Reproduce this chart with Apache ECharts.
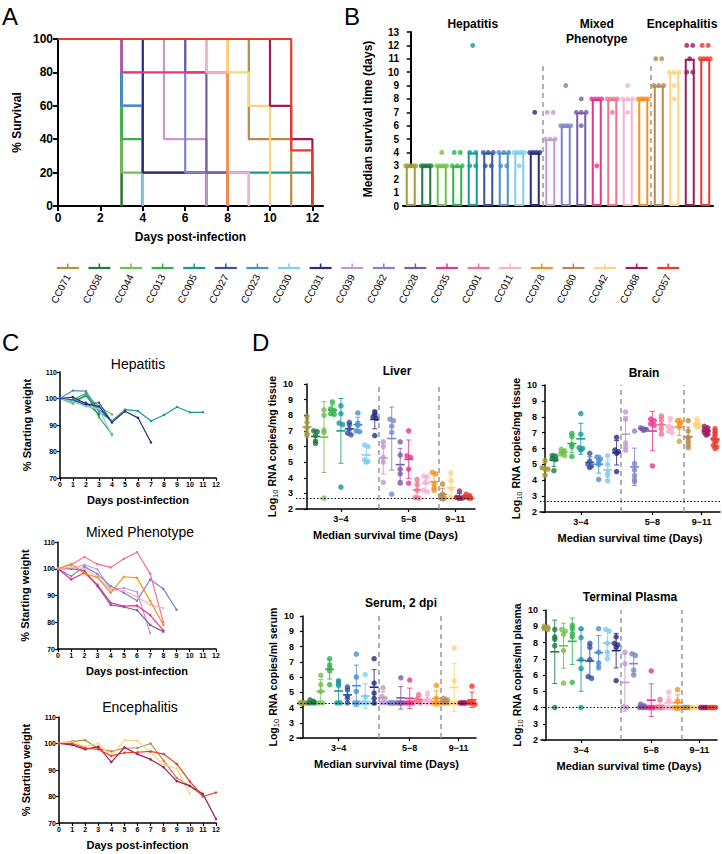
<!DOCTYPE html>
<html><head><meta charset="utf-8">
<script src="https://cdn.jsdelivr.net/npm/echarts@6/dist/echarts.min.js"></script>
<style>html,body{margin:0;padding:0;background:#fff}#c{width:722px;height:854px}</style>
</head><body><div id="c"></div>
<script>
// ---------------- DATA ----------------
const strains = ['CC071','CC058','CC044','CC013','CC005','CC027','CC023','CC030','CC031','CC039','CC062','CC028','CC035','CC001','CC011','CC078','CC060','CC042','CC068','CC057'];
const strainColors = ['#a39a3b','#1b7a40','#72c04e','#2fb34a','#17999a','#3353a3','#4a8fd0','#80cdef','#262c7e','#c09ad0','#7c86c8','#7b5aa6','#e9348c','#f07490','#f6b2cf','#f7941d','#b8884c','#fdd57c','#9b1d5b','#ea3a2c'];
const survivalDays = [
  [3,3,3,3,3],[3,3,3,3,3],[3,3,3,3,4],[3,3,3,4,4],[3,3,4,4,12],
  [3,3,4,4,4],[3,3,4,4,4],[3,4,4,4,4],[4,4,4,4,7],[5,5,5,7,7],
  [6,6,6,6,9],[6,7,7,7,8],[3,8,8,8,8],[7,8,8,8,8],[7,8,8,8,9],
  [8,8,8,8,8],[9,9,9,11,11],[8,9,10,10,10],[10,10,11,12,12],[11,11,11,11,12,12]
];
const survivalTicks = [0,2,4,6,8,10,12];
const groupNames = ['Hepatitis','Mixed\nPhenotype','Encephalitis'];
const groupSizes = [9,7,4];
const groupLabelsD = ['3\u22124','5\u22128','9\u221211'];

const hepStrains = ['CC071','CC058','CC044','CC013','CC005','CC027','CC023','CC030','CC031'];
const hepWeights = [
  [100,98.5,101,95],
  [100,99,98.5,94],
  [100,98,101.5,97,94],
  [100,99.5,102,93,86.5],
  [100,99,101,96,91.5,95.8,95.3,91.5,93.8,96.8,94.8,94.8],
  [100,99.5,97.5,98.5,91],
  [100,103,102.8,95,91.5],
  [100,98.8,97,96,86],
  [100,100.5,98,97,91,95.2,92.7,83.4]
];
const mixStrains = ['CC039','CC062','CC028','CC035','CC001','CC011','CC078'];
const mixWeights = [
  [100,100,101.5,99.8,92.2,92.8,91.3,76],
  [100,97.2,100.8,98,93.5,91,88,96,92.5,84.7],
  [100,100,99.3,93.5,86.5,85.7,84.5,79,76.5],
  [100,96,98.5,94,87.3,86,86.2,82.7,77],
  [100,101.5,104.4,101.7,100.5,103.7,106.2,98.2,80],
  [100,100.5,100,97,92,91.8,89.5,86.5,85.3],
  [100,101.8,98.2,96.8,91,97,96.6,88,79]
];
const encStrains = ['CC060','CC042','CC068','CC057'];
const encWeights = [
  [100,100.8,101.3,98,97,98.3,98.3,100,93.5,87,84,80.3],
  [100,100.5,98.8,100,95.3,101.3,101,96.5,92,90.5,81],
  [100,99.5,97.8,98.8,93,98.5,96,94,91,85.8,84,81,71.5],
  [100,100,98.3,97.8,95.3,96.5,96.7,97,96,92.3,85.7,80,81.5]
];

const liverValues = [
  [7.95,7.55,7.2,6.85,6.7],[7.0,6.95,6.7,6.35,6.2],[8.35,8.0,7.05,6.9,2.7],[8.85,8.4,8.3,8.1,8.05],
  [8.6,8.1,7.5,7.4,3.4],[7.55,7.4,7.1,6.85,6.75],[8.15,7.5,7.35,7.0,6.95],[6.1,6.0,5.15,5.0,5.05],
  [8.2,8.05,7.9,7.8,6.7],[6.3,6.0,5.3,5.0,3.7],[7.75,7.65,7.3,6.9,2.95],[6.3,5.45,4.55,4.25,3.65],
  [7.0,5.4,5.3,4.55,3.65],[3.9,3.55,3.2,2.75,2.7],[4.1,4.05,3.7,3.2,3.1],[4.35,4.25,3.6,3.35,3.2],
  [3.6,2.95,2.8,2.7,2.65],[4.3,3.8,3.3,2.75,2.7],[3.15,2.75,2.7,2.7,2.7],[2.95,2.85,2.75,2.7,2.7,2.8]
];
const brainValues = [
  [5.25,4.8,4.7,4.7,4.3],[5.55,5.5,5.35,5.3,4.6],[5.95,5.85,5.8,5.65,5.55],[6.95,6.75,6.25,6.1,5.5],
  [8.2,6.9,6.05,6.0,5.9],[5.7,5.2,4.9,4.8,5.0],[5.45,5.35,5.2,5.0,4.05],[5.55,5.0,4.5,4.3,3.95],
  [6.7,5.9,5.8,5.7,4.55],[8.3,7.85,6.35,6.1,5.9],[7.1,5.05,4.65,4.3,4.05,3.9],[7.3,7.25,7.2,7.15,7.2],
  [7.85,7.75,7.55,7.45,4.9],[8.05,7.8,7.5,7.25,6.9],[7.9,7.4,7.3,7.1,7.0],[7.75,7.65,7.6,7.35,6.45],
  [7.75,7.1,6.7,6.5,6.3,6.05],[7.85,7.65,7.5,7.4,7.35],[7.4,7.3,7.2,7.1,7.0,6.9,6.85],[7.25,7.1,6.95,6.8,6.6,6.5,6.4,6.2,6.0,6.1]
];
const serumValues = [
  [4.3,4.3,4.3,4.3,4.3],[4.5,4.4,4.3,4.3,4.3],[6.1,5.5,5.05,4.3,4.3],[7.2,6.8,6.6,6.4,5.5],
  [5.75,5.6,5.45,4.3,4.3],[5.35,5.15,4.75,4.6,4.3],[7.5,6.0,5.05,4.3,4.3],[6.15,4.7,4.3,4.3,4.3],
  [7.2,5.6,4.95,4.6,4.3],[5.3,4.7,4.6,4.3,4.3],[4.3,4.3,4.3,4.3,4.3],[5.95,4.3,4.3,4.3,4.3],
  [5.8,4.3,4.3,4.3,4.3],[4.85,4.55,4.45,4.4,4.3],[4.95,4.55,4.4,4.3,4.3],[5.45,4.6,4.3,4.3,4.3],
  [4.6,4.5,4.3,4.3,4.3],[7.9,5.75,4.3,4.3,4.3],[4.3,4.3,4.3,4.3,4.3],[5.4,4.3,4.3,4.3,4.2]
];
const plasmaValues = [
  [9.0,8.95,8.85,8.8],[8.8,8.35,8.2,7.8,4.0],[8.8,8.7,8.5,7.5,5.5],[9.05,8.85,8.55,8.35,5.55],
  [8.85,8.3,6.95,6.4,4.0],[7.95,7.7,6.95,5.9,5.8],[8.85,7.4,6.75,6.5],[8.8,8.7,7.95,7.4,7.0],
  [8.35,7.95,7.85,7.7,5.65],[7.4,6.7,4.05,4.0],[7.3,7.2,6.3,6.0],[4.2,4.1,4.0,4.0,4.0],
  [6.25,4.0,4.0,4.0,4.0],[4.5,4.0,4.0,4.0],[4.95,4.45,4.0,4.0,4.0],[5.1,4.4,4.0,4.0,4.0],
  [4.0,4.0,4.0,4.0],[4.0,4.0,4.0,4.0],[4.0,4.0,4.0,4.0],[4.0,4.0,4.0,4.0]
];
const detectionLimits = [2.7, 2.7, 4.28, 4.0];
const dTitles = ['Liver','Brain','Serum, 2 dpi','Terminal Plasma'];
const dYNames = ['mg tissue','mg tissue','ml serum','ml plasma'];

// ---------------- HELPERS ----------------
const FONT = 'Liberation Sans, Arial, Helvetica, sans-serif';
const colorOf = s => strainColors[strains.indexOf(s)];
const mean = a => a.reduce((s,v)=>s+v,0)/a.length;
const sdev = a => { const m = mean(a); return Math.sqrt(a.reduce((s,v)=>s+(v-m)*(v-m),0)/(a.length-1)); };
const median = a => { const b=[...a].sort((x,y)=>x-y); const n=b.length; return n%2? b[(n-1)/2] : (b[n/2-1]+b[n/2])/2; };
const bounds = []; { let c=0; groupSizes.forEach((g,i)=>{ c+=g; if(i<groupSizes.length-1) bounds.push(c-0.5); }); }
const groupCenters = []; { let c=0; groupSizes.forEach(g=>{ groupCenters.push(c+(g-1)/2); c+=g; }); }

function spreadOffsets(vals, thr, maxSpan, step){
  const idx = vals.map((v,i)=>i).sort((a,b)=>vals[b]-vals[a]);
  const off = new Array(vals.length).fill(0);
  let i=0;
  while(i<idx.length){
    let j=i; while(j+1<idx.length && vals[idx[i]]-vals[idx[j+1]]<thr) j++;
    const k=j-i+1; const sp = k>1? Math.min(step, maxSpan/(k-1)) : 0;
    for(let q=0;q<k;q++) off[idx[i+q]] = (q-(k-1)/2)*sp;
    i=j+1;
  }
  return off;
}
function kmCurve(days){
  const n=days.length; const u=[...new Set(days)].sort((a,b)=>a-b);
  const pts=[[0,100]]; let dead=0;
  u.forEach(d=>{ dead += days.filter(x=>x===d).length; pts.push([d, 100*(n-dead)/n]); });
  return pts;
}
const bold = (sz)=>({fontFamily:FONT,fontWeight:'bold',fontSize:sz,color:'#000'});

// ---------------- LAYOUT ----------------
const grids = [
  {left:58, top:39, width:265, height:167},   // 0 A
  {left:403, top:32, width:310, height:174},  // 1 B
  {left:52, top:262, width:632, height:6},    // 2 legend
  {left:60, top:372, width:156, height:106},  // 3 hep
  {left:58, top:542, width:158, height:107},  // 4 mixed
  {left:59, top:717, width:157, height:106},  // 5 enc
  {left:296, top:384, width:179, height:125}, // 6 liver
  {left:540, top:385, width:180, height:127}, // 7 brain
  {left:297, top:616, width:179, height:122}, // 8 serum
  {left:541, top:610, width:176, height:130}  // 9 plasma
];
const dRanges = [[-1.3,19.83],[-0.56,19.55],[-0.67,19.45],[-0.57,19.5]];
const dNameGapY = [14,15,14,16];

const xAxes=[], yAxes=[], series=[];

// A
xAxes.push({gridIndex:0,type:'value',min:0,max:12.5,
  axisLine:{lineStyle:{color:'#000',width:2}},
  axisTick:{show:true,length:5,lineStyle:{color:'#000',width:2},customValues:survivalTicks},
  axisLabel:{customValues:survivalTicks,margin:6,...bold(12)},splitLine:{show:false},
  name:'Days post-infection',nameLocation:'middle',nameGap:25,nameTextStyle:bold(12)});
yAxes.push({gridIndex:0,type:'value',min:0,max:100,interval:20,
  axisLine:{show:true,lineStyle:{color:'#000',width:2}},
  axisTick:{show:true,length:5,lineStyle:{color:'#000',width:2}},
  axisLabel:{margin:5,...bold(12)},splitLine:{show:false},
  name:'% Survival',nameLocation:'middle',nameRotate:90,nameGap:35,nameTextStyle:bold(12)});
strains.forEach((s,i)=>{
  series.push({type:'line',xAxisIndex:0,yAxisIndex:0,step:'end',data:kmCurve(survivalDays[i]),
    showSymbol:false,clip:false,lineStyle:{color:strainColors[i],width:2.2},itemStyle:{color:strainColors[i]},z:2+i});
});

// B
xAxes.push({gridIndex:1,type:'value',min:-0.5,max:19.5,
  axisLine:{lineStyle:{color:'#000',width:2}},axisTick:{show:false},axisLabel:{show:false},splitLine:{show:false}});
yAxes.push({gridIndex:1,type:'value',min:0,max:13,interval:1,
  axisLine:{show:true,lineStyle:{color:'#000',width:2}},
  axisTick:{show:true,length:4,lineStyle:{color:'#000',width:1.5}},
  axisLabel:{margin:4,...bold(10)},splitLine:{show:false},
  name:'Median survival time (days)',nameLocation:'middle',nameRotate:90,nameGap:29,nameTextStyle:bold(12)});
series.push({type:'bar',xAxisIndex:1,yAxisIndex:1,barWidth:10,
  data:strains.map((s,i)=>({value:[i,median(survivalDays[i])],itemStyle:{color:'#fff',borderColor:strainColors[i],borderWidth:2}})),
  markLine:{silent:true,symbol:'none',label:{show:false},
    lineStyle:{type:[5,4],color:'#999',width:1.5},
    data:bounds.map(b=>[{coord:[b,0]},{coord:[b,10.5]}])},z:2});
{
  const pts=[];
  strains.forEach((s,i)=>{
    const off = spreadOffsets(survivalDays[i],0.01,10,6);
    survivalDays[i].forEach((v,k)=>pts.push({value:[i,v],symbolOffset:[off[k],0],itemStyle:{color:strainColors[i]}}));
  });
  series.push({type:'scatter',xAxisIndex:1,yAxisIndex:1,symbolSize:5,data:pts,z:3});
}
series.push({type:'custom',xAxisIndex:1,yAxisIndex:1,clip:false,silent:true,
  data:groupCenters.map(c=>[c,13]),
  renderItem:(p,api)=>{const c=api.coord([api.value(0),api.value(1)]);
    return {type:'text',x:c[0],y:c[1]-16,style:{text:groupNames[p.dataIndex],align:'center',verticalAlign:'top',
      fontFamily:FONT,fontWeight:'bold',fontSize:12,lineHeight:15,fill:'#000'}};}});

// Legend row
xAxes.push({gridIndex:2,type:'category',data:strains,axisLine:{show:false},axisTick:{show:false},
  axisLabel:{rotate:63,margin:7,fontFamily:FONT,fontSize:10,color:'#000',interval:0}});
yAxes.push({gridIndex:2,type:'value',min:0,max:1,show:false});
series.push({type:'custom',xAxisIndex:2,yAxisIndex:2,clip:false,silent:true,
  data:strains.map((s,i)=>[i,0]),
  renderItem:(p,api)=>{const c=api.coord([api.value(0),0]);const col=strainColors[p.dataIndex];
    return {type:'group',children:[
      {type:'line',shape:{x1:c[0]-11,y1:c[1],x2:c[0]+11,y2:c[1]},style:{stroke:col,lineWidth:2.2}},
      {type:'line',shape:{x1:c[0],y1:c[1],x2:c[0],y2:c[1]-4.5},style:{stroke:col,lineWidth:1.5}}]};}});

// C
const cPanels=[[hepStrains,hepWeights],[mixStrains,mixWeights],[encStrains,encWeights]];
cPanels.forEach((pn,k)=>{
  const gi=3+k;
  xAxes.push({gridIndex:gi,type:'value',min:0,max:12,interval:1,
    axisLine:{lineStyle:{color:'#000',width:1.5}},axisTick:{show:true,length:3,lineStyle:{color:'#000',width:1.2}},
    axisLabel:{margin:3,...bold(7)},splitLine:{show:false},
    name:'Days post-infection',nameLocation:'middle',nameGap:16,nameTextStyle:bold(11)});
  yAxes.push({gridIndex:gi,type:'value',min:70,max:110,interval:10,
    axisLine:{show:true,lineStyle:{color:'#000',width:1.5}},axisTick:{show:true,length:3,lineStyle:{color:'#000',width:1.2}},
    axisLabel:{margin:3,...bold(7)},splitLine:{show:false},
    name:'% Starting weight',nameLocation:'middle',nameRotate:90,nameGap:28,nameTextStyle:bold(11)});
  pn[0].forEach((s,j)=>{
    const col=colorOf(s);
    series.push({type:'line',xAxisIndex:gi,yAxisIndex:gi,data:pn[1][j].map((v,d)=>[d,v]),
      symbol:'circle',symbolSize:2.5,lineStyle:{color:col,width:1.2},itemStyle:{color:col},clip:false});
  });
});

// D
const dData=[liverValues,brainValues,serumValues,plasmaValues];
dData.forEach((vals,k)=>{
  const gi=6+k;
  xAxes.push({gridIndex:gi,type:'value',min:dRanges[k][0],max:dRanges[k][1],
    axisLine:{lineStyle:{color:'#000',width:1.5}},
    axisTick:{show:true,length:3,lineStyle:{color:'#000',width:1.2},customValues:groupCenters},
    axisLabel:{customValues:groupCenters,margin:5,...bold(9),formatter:v=>groupLabelsD[groupCenters.indexOf(v)]},
    splitLine:{show:false},
    name:'Median survival time (Days)',nameLocation:'middle',nameGap:20,nameTextStyle:bold(11)});
  yAxes.push({gridIndex:gi,type:'value',min:2,max:10,interval:1,
    axisLine:{show:true,lineStyle:{color:'#000',width:1.5}},axisTick:{show:true,length:3,lineStyle:{color:'#000',width:1.2}},
    axisLabel:{margin:3,...bold(9)},splitLine:{show:false},
    name:'{b|Log}{s|10}{b| RNA copies/'+dYNames[k]+'}',nameLocation:'middle',nameRotate:90,nameGap:dNameGapY[k],
    nameTextStyle:{rich:{b:{...bold(10.5)},s:{fontFamily:FONT,fontSize:7.5,color:'#000',padding:[6,0,0,0]}}}});
  // mean / SD
  series.push({type:'custom',xAxisIndex:gi,yAxisIndex:gi,clip:false,silent:true,z:2,
    data:vals.map((a,i)=>[i,mean(a),sdev(a)]),
    renderItem:(p,api)=>{const i=api.value(0),m=api.value(1),sd=api.value(2);const col=strainColors[i];
      const c=api.coord([i,m]),t=api.coord([i,m+sd]),b=api.coord([i,m-sd]);
      return {type:'group',children:[
        {type:'line',shape:{x1:t[0],y1:t[1],x2:b[0],y2:b[1]},style:{stroke:col,lineWidth:1,opacity:0.85}},
        {type:'line',shape:{x1:t[0]-2.5,y1:t[1],x2:t[0]+2.5,y2:t[1]},style:{stroke:col,lineWidth:1,opacity:0.85}},
        {type:'line',shape:{x1:b[0]-2.5,y1:b[1],x2:b[0]+2.5,y2:b[1]},style:{stroke:col,lineWidth:1,opacity:0.85}},
        {type:'line',shape:{x1:c[0]-4.5,y1:c[1],x2:c[0]+4.5,y2:c[1]},style:{stroke:col,lineWidth:1.6}}]};}});
  const pts=[];
  vals.forEach((a,i)=>{const off=spreadOffsets(a,0.12,6,3.5);
    a.forEach((v,q)=>pts.push({value:[i,v],symbolOffset:[off[q],0],itemStyle:{color:strainColors[i]}}));});
  series.push({type:'scatter',xAxisIndex:gi,yAxisIndex:gi,symbolSize:5.5,data:pts,z:3,
    markLine:{silent:true,symbol:'none',label:{show:false},
      data:[...bounds.map(b=>({xAxis:b,lineStyle:{type:[5,4],color:'#999',width:1.5}})),
        {yAxis:detectionLimits[k],lineStyle:{type:[1.5,2],color:'#000',width:1.2}}]}});
});

// text labels
const T=(text,x,y,size,weight,align)=>({type:'text',x,y,style:{text,fontFamily:FONT,fontSize:size,fontWeight:weight||'normal',fill:'#000',align:align||'center',verticalAlign:'middle'}});
const graphics=[
  T('A',2,16,24,'normal','left'),T('B',344,16,24,'normal','left'),
  T('C',2,342,24,'normal','left'),T('D',252,342,24,'normal','left'),
  T('Hepatitis',138,364,14),T('Mixed Phenotype',140,532,14),T('Encephalitis',140,707,14),
  T(dTitles[0],397,371,12,'bold'),T(dTitles[1],644,373,12,'bold'),
  T(dTitles[2],401,603,12,'bold'),T(dTitles[3],630,597,12,'bold')
];

const chart=echarts.init(document.getElementById('c'),null,{renderer:'svg'});
chart.setOption({animation:false,backgroundColor:'#fff',grid:grids,xAxis:xAxes,yAxis:yAxes,series,graphic:graphics});
</script></body></html>
